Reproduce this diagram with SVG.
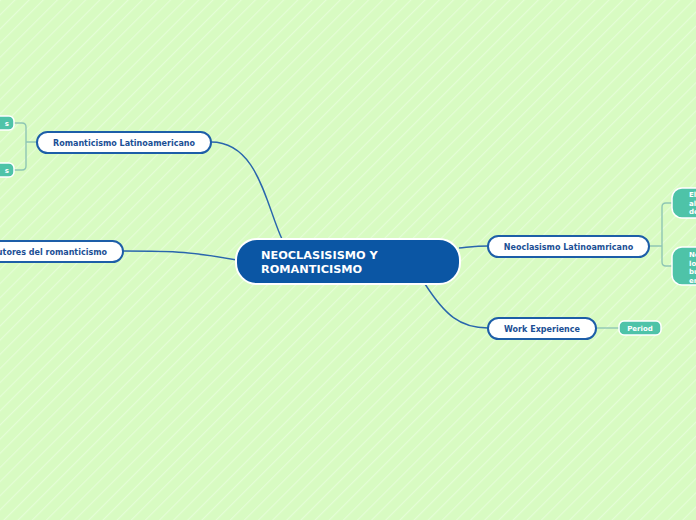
<svg xmlns="http://www.w3.org/2000/svg" width="696" height="520" viewBox="0 0 696 520">
<defs>
<pattern id="bg" width="10" height="10" patternUnits="userSpaceOnUse" patternTransform="rotate(45)">
<rect width="10" height="10" fill="#d8fbc2"/>
<rect width="1.2" height="10" fill="#e4fdd6"/>
</pattern>
<style>
.main{fill:#0b56a4;stroke:#ffffff;stroke-width:2}
.mtxt{font-family:"DejaVu Sans",Verdana,sans-serif;font-weight:bold;font-size:11.3px;fill:#ffffff}
.sub{fill:#ffffff;stroke:#1d5ea8;stroke-width:2}
.stxt{font-family:"DejaVu Sans",Verdana,sans-serif;font-weight:bold;font-size:8px;fill:#1b4f95;text-anchor:middle}
.leaf{fill:#4ec3a8;stroke:#ffffff;stroke-width:1.5}
.ltxt{font-family:"DejaVu Sans",Verdana,sans-serif;font-weight:bold;font-size:7px;fill:#ffffff}
.conn{fill:none;stroke:#2a66ad;stroke-width:1.4}
.br{fill:none;stroke:#8fc6b4;stroke-width:1.4}
</style>
</defs>
<rect width="696" height="520" fill="url(#bg)"/>
<g id="connectors">
<path class="conn" d="M 282 239 C 266 205, 258 142, 211 142"/>
<path class="conn" d="M 237 260 C 190 252, 180 251, 123 251"/>
<path class="conn" d="M 459 248 C 470 247, 476 246, 488 246"/>
<path class="conn" d="M 425 284 C 445 315, 460 328, 488 328"/>
<path class="br" d="M 37 142 L 26 142 M 14 123 L 22 123 Q 26 123 26 127 L 26 166 Q 26 170 22 170 L 14 170"/>
<path class="br" d="M 649 246 L 662 246 M 672 203 L 666 203 Q 662 203 662 207 L 662 262 Q 662 266 666 266 L 672 266"/>
<path class="br" d="M 596 328 L 619 328"/>
</g>
<g id="center">
<rect class="main" x="236" y="239" width="224" height="45" rx="21"/>
<text class="mtxt" x="261" y="259">NEOCLASISISMO Y</text>
<text class="mtxt" x="261" y="273">ROMANTICISMO</text>
</g>
<g id="romanticismo">
<rect class="sub" x="37" y="132" width="174" height="21" rx="10.5"/>
<text class="stxt" x="124" y="145.5">Romanticismo Latinoamericano</text>
</g>
<g id="autores">
<rect class="sub" x="-40" y="241" width="163" height="21" rx="10.5"/>
<text class="stxt" x="107" y="254.5" style="text-anchor:end">Autores del romanticismo</text>
</g>
<g id="neoclasismo">
<rect class="sub" x="488" y="236" width="161" height="21" rx="10.5"/>
<text class="stxt" x="568.5" y="249.5">Neoclasismo Latinoamricano</text>
</g>
<g id="work">
<rect class="sub" x="488" y="318" width="108" height="21" rx="10.5"/>
<text class="stxt" x="542" y="331.5">Work Experience</text>
</g>
<g id="period">
<rect class="leaf" x="619" y="321" width="42" height="14" rx="5"/>
<text class="ltxt" x="640" y="330.5" text-anchor="middle">Period</text>
</g>
<g id="leaf-l1">
<rect class="leaf" x="-30" y="116" width="44" height="14" rx="5"/>
<text class="ltxt" x="9" y="125.5" text-anchor="end">s</text>
</g>
<g id="leaf-l2">
<rect class="leaf" x="-30" y="163" width="44" height="14" rx="5"/>
<text class="ltxt" x="9" y="172.5" text-anchor="end">s</text>
</g>
<g id="leaf-r1">
<rect class="leaf" x="672" y="188" width="60" height="30" rx="10"/>
<text class="ltxt" x="689" y="197">El</text>
<text class="ltxt" x="689" y="205.5">al</text>
<text class="ltxt" x="689" y="214">de</text>
</g>
<g id="leaf-r2">
<rect class="leaf" x="672" y="247" width="60" height="38" rx="10"/>
<text class="ltxt" x="689" y="257">Ne</text>
<text class="ltxt" x="689" y="265.5">lo</text>
<text class="ltxt" x="689" y="274">bú</text>
<text class="ltxt" x="689" y="282.5">en</text>
</g>
</svg>
